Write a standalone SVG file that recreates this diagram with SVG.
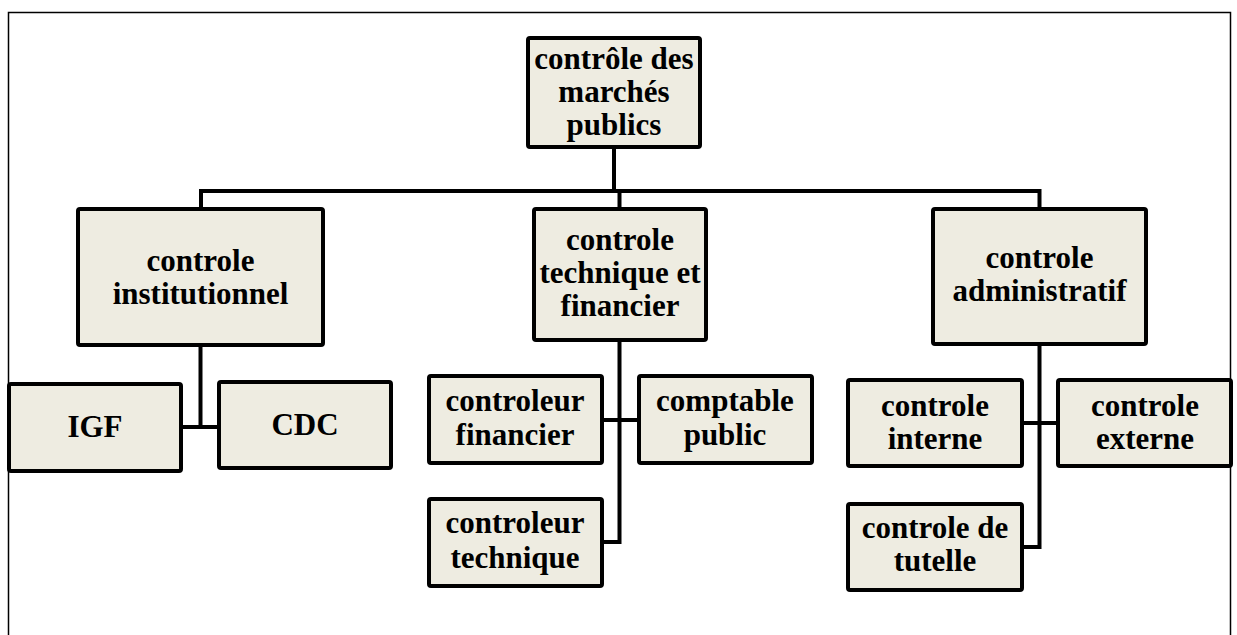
<svg xmlns="http://www.w3.org/2000/svg" width="1237" height="635" viewBox="0 0 1237 635">
<style>
.box{fill:#EEECE1;stroke:#000;stroke-width:4;}
.t{font-family:"Liberation Serif","Times New Roman",serif;font-weight:bold;font-size:31px;fill:#000;text-anchor:middle;}
.c{fill:none;stroke:#000;stroke-width:4;}
</style>
<rect width="1237" height="635" fill="#fff"/>
<path d="M8.5 635 V12.5 H1230.5 V635" fill="none" stroke="#000" stroke-width="1.5"/>
<g id="connectors">
<path class="c" d="M614 149 V191"/>
<path class="c" d="M201 207 V191 H1039.5 V207"/>
<path class="c" d="M619.5 191 V207"/>
<path class="c" d="M200.5 347 V427"/>
<path class="c" d="M183 427 H217"/>
<path class="c" d="M619.5 342 V542 H604"/>
<path class="c" d="M604 420 H637"/>
<path class="c" d="M1039.5 346 V547 H1024"/>
<path class="c" d="M1024 423 H1056"/>
</g>
<g id="n-top"><rect class="box" x="528" y="38" width="172" height="109" rx="2"/>
<text class="t" x="614" y="69">contrôle des</text><text class="t" x="614" y="102">marchés</text><text class="t" x="614" y="135">publics</text></g>
<g id="n-inst"><rect class="box" x="78" y="209" width="245" height="136" rx="2"/>
<text class="t" x="200.5" y="271">controle</text><text class="t" x="200.5" y="304">institutionnel</text></g>
<g id="n-igf"><rect class="box" x="9" y="384" width="172" height="87" rx="2"/>
<text class="t" x="95" y="437">IGF</text></g>
<g id="n-cdc"><rect class="box" x="219" y="382" width="172" height="86" rx="2"/>
<text class="t" x="305" y="435">CDC</text></g>
<g id="n-tf"><rect class="box" x="534" y="209" width="172" height="131" rx="2"/>
<text class="t" x="620" y="250">controle</text><text class="t" x="620" y="283">technique et</text><text class="t" x="620" y="316">financier</text></g>
<g id="n-cf"><rect class="box" x="429" y="376" width="173" height="87" rx="2"/>
<text class="t" x="515" y="411">controleur</text><text class="t" x="515" y="445">financier</text></g>
<g id="n-cp"><rect class="box" x="639" y="376" width="173" height="87" rx="2"/>
<text class="t" x="725" y="411">comptable</text><text class="t" x="725" y="445">public</text></g>
<g id="n-ct"><rect class="box" x="429" y="499" width="173" height="87" rx="2"/>
<text class="t" x="515" y="533">controleur</text><text class="t" x="515" y="568">technique</text></g>
<g id="n-adm"><rect class="box" x="933" y="209" width="213" height="135" rx="2"/>
<text class="t" x="1039.5" y="268">controle</text><text class="t" x="1039.5" y="301">administratif</text></g>
<g id="n-int"><rect class="box" x="848" y="380" width="174" height="86" rx="2"/>
<text class="t" x="935" y="416">controle</text><text class="t" x="935" y="449">interne</text></g>
<g id="n-ext"><rect class="box" x="1058" y="380" width="173" height="86" rx="2"/>
<text class="t" x="1145" y="416">controle</text><text class="t" x="1145" y="449">externe</text></g>
<g id="n-tut"><rect class="box" x="848" y="504" width="174" height="86" rx="2"/>
<text class="t" x="935" y="538">controle de</text><text class="t" x="935" y="571">tutelle</text></g>
</svg>
